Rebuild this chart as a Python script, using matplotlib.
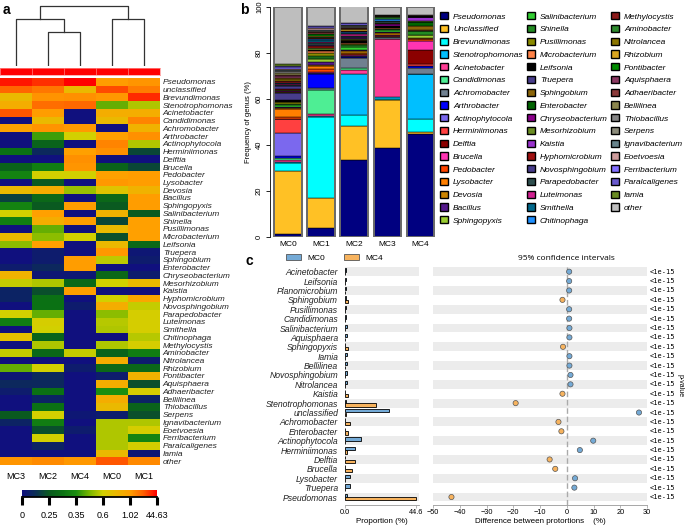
import numpy as np
import matplotlib
matplotlib.use("Agg")
import matplotlib.pyplot as plt
from matplotlib.colors import LinearSegmentedColormap
from matplotlib.patches import Patch

plt.rcParams['font.family'] = ['Liberation Sans', 'DejaVu Sans']

# ---------------------------------------------------------------
# data : relative abundance (%) of top 50 genera in each sample
genera = ['Pseudomonas', 'unclassified', 'Brevundimonas', 'Stenotrophomonas',
          'Acinetobacter', 'Candidimonas', 'Achromobacter', 'Arthrobacter',
          'Actinophytocola', 'Herminiimonas', 'Delftia', 'Brucella', 'Pedobacter',
          'Lysobacter', 'Devosia', 'Bacillus', 'Sphingopyxis', 'Salinibacterium',
          'Shinella', 'Pusillimonas', 'Microbacterium', 'Leifsonia', 'Truepera',
          'Sphingobium', 'Enterobacter', 'Chryseobacterium', 'Mesorhizobium',
          'Kaistia', 'Hyphomicrobium', 'Novosphingobium', 'Parapedobacter',
          'Luteimonas', 'Smithella', 'Chitinophaga', 'Methylocystis', 'Aminobacter',
          'Nitrolancea', 'Rhizobium', 'Pontibacter', 'Aquisphaera', 'Adhaeribacter',
          'Bellilinea', 'Thiobacillus', 'Serpens', 'Ignavibacterium', 'Eoetvoesia',
          'Ferribacterium', 'Paralcaligenes', 'Iamia', 'other']

mc0 = [1.5, 27.0, 3.5, 0.45, 0.9, 0.8, 0.0, 1.1, 9.8, 6.0, 0.0, 0.27, 1.0, 3.1,
       0.7, 0.28, 0.25, 0.85, 0.2, 0.8, 0.22, 0.8, 2.9, 0.57, 0.0, 0.28, 0.6, 0.0,
       0.6, 0.9, 0.5, 0.56, 0.55, 0.0, 0.55, 0.27, 0.9, 0.28, 0.05, 0.9, 0.35, 0.9,
       0.8, 0.05, 0.55, 0.55, 0.55, 0.55, 0.8, 25.0]
mc1 = [4.0, 13.0, 35.0, 0.55, 0.9, 10.5, 0.85, 5.8, 0.55, 0.2, 0.0, 0.2, 1.3, 1.2,
       0.85, 1.2, 1.2, 0.25, 1.1, 1.05, 1.05, 0.28, 0.03, 0.05, 0.0, 0.05, 0.8, 0.0,
       0.95, 0.58, 0.62, 0.62, 0.62, 0.56, 0.62, 0.32, 0.05, 0.28, 0.85, 0.22, 0.62,
       0.08, 0.27, 0.22, 0.55, 0.62, 0.33, 0.62, 0.03, 8.4]
mc2 = [33.3, 14.8, 4.8, 17.8, 1.8, 0.8, 4.6, 0.4, 0.27, 0.1, 0.0, 0.32, 0.6, 0.25,
       0.9, 0.28, 0.25, 1.1, 0.9, 0.45, 0.5, 1.05, 0.05, 0.05, 0.1, 0.03, 0.55, 0.22,
       0.3, 0.3, 0.45, 0.62, 0.6, 0.27, 0.55, 0.28, 0.0, 0.6, 0.1, 0.1, 0.3, 0.08,
       0.3, 0.6, 0.32, 0.22, 0.6, 0.08, 0.0, 7.2]
mc3 = [38.8, 20.5, 0.8, 0.9, 25.0, 0.0, 1.0, 0.0, 0.0, 0.3, 0.0, 0.27, 0.33, 0.0,
       0.8, 0.18, 0.33, 0.6, 0.32, 0.0, 0.8, 0.5, 0.0, 0.0, 0.05, 0.85, 0.58, 0.08,
       0.08, 0.0, 0.6, 0.32, 0.0, 0.75, 0.0, 0.58, 0.0, 0.45, 0.03, 0.1, 0.05, 0.0,
       0.0, 0.25, 0.08, 0.0, 0.0, 0.0, 0.0, 3.8]
mc4 = [44.6, 0.8, 6.0, 19.3, 0.0, 0.0, 2.8, 0.6, 0.0, 1.1, 6.0, 4.0, 0.6, 0.0,
       0.52, 0.0, 1.5, 0.0, 1.5, 0.0, 0.6, 0.0, 0.0, 1.8, 1.8, 0.03, 0.28, 1.6,
       0.0, 0.05, 0.0, 0.0, 0.0, 0.0, 0.0, 0.58, 0.0, 0.05, 0.0, 0.0, 0.0, 0.0,
       0.0, 0.03, 0.0, 0.05, 0.0, 0.0, 0.0, 3.6]

samples = ['MC0', 'MC1', 'MC2', 'MC3', 'MC4']
heat_order = ['MC3', 'MC2', 'MC4', 'MC0', 'MC1']
scale_breaks = [0, 0.25, 0.35, 0.6, 1.02, 44.63]

genus_colors = ['#000080', '#ffc125', '#00ffff', '#00bfff', '#ff3e96', '#4eee94',
                '#708090', '#0000ff', '#7b68ee', '#ff4040', '#8b0000', '#ff34b3',
                '#ff4500', '#ff7f00', '#cd8500', '#551a8b', '#9acd32', '#32cd32',
                '#228b22', '#8b8b00', '#ff8247', '#000000', '#483d8b', '#8b6508',
                '#006400', '#8b008b', '#6b8e23', '#9932cc', '#a01010', '#473c8b',
                '#2f4f4f', '#d02090', '#00688b', '#1e90ff', '#8b1a1a', '#2e8b2e',
                '#8b7500', '#daa520', '#008b00', '#8b3a62', '#8b3a3a', '#8b864e',
                '#858585', '#8b8b7a', '#68838b', '#cd9b9b', '#836fff', '#6959cd',
                '#698b22', '#bebebe']

# dendrogram merges: (left node, right node, height)
dendro_merges = [('MC2', 'MC4', 0.57), ('MC3', 'n0', 0.78),
                 ('MC0', 'MC1', 0.78), ('n1', 'n2', 1.0)]

# panel c : MC0 vs MC4
c_genera = ['Acinetobacter', 'Leifsonia', 'Planomicrobium', 'Sphingobium',
            'Pusillimonas', 'Candidimonas', 'Salinibacterium', 'Aquisphaera',
            'Sphingopyxis', 'Iamia', 'Bellilinea', 'Novosphingobium', 'Nitrolancea',
            'Kaistia', 'Stenotrophomonas', 'unclassified', 'Achromobacter',
            'Enterobacter', 'Actinophytocola', 'Herminiimonas', 'Delftia',
            'Brucella', 'Lysobacter', 'Truepera', 'Pseudomonas']
c_mc0 = [0.9, 0.9, 0.9, 0.5, 0.9, 0.9, 1.0, 1.0, 0.3, 1.0, 1.0, 1.45, 1.4, 0.0,
         0.4, 27.6, 0.0, 0.0, 9.9, 6.0, 0.0, 0.2, 3.1, 2.9, 1.5]
c_mc4 = [0.0, 0.0, 0.0, 2.1, 0.0, 0.0, 0.0, 0.0, 1.7, 0.0, 0.0, 0.05, 0.0, 1.6,
         19.5, 0.6, 3.1, 2.0, 0.0, 1.1, 6.4, 4.5, 0.0, 0.05, 44.6]
c_pvals = ['<1e-15'] * 25

# ---------------------------------------------------------------
W, H = 685, 525
fig = plt.figure(figsize=(W / 100, H / 100), dpi=100)


def add_px(x0, y0, x1, y1):
    return fig.add_axes([x0 / W, 1 - y1 / H, (x1 - x0) / W, (y1 - y0) / H])


heat_cmap = LinearSegmentedColormap.from_list('heat', [
    (0.0, '#10107e'), (0.1, '#0b2f55'), (0.2, '#0a5a20'), (0.3, '#0c7214'),
    (0.4, '#1a8e10'), (0.5, '#7ab800'), (0.6, '#d2d000'), (0.7, '#ecb800'),
    (0.8, '#ffa000'), (0.9, '#ff6000'), (1.0, '#ff0000')])

#
# panel a : heatmap
table = {'MC0': mc0, 'MC1': mc1, 'MC2': mc2, 'MC3': mc3, 'MC4': mc4}
mat = np.array([table[s] for s in heat_order]).T
levels = np.interp(mat, scale_breaks, np.arange(len(scale_breaks)))

axh = add_px(0, 78, 160, 465)
axh.imshow(levels, cmap=heat_cmap, vmin=0, vmax=5, aspect='auto',
           extent=(0, 5, 50, 0), interpolation='nearest')
axh.set_xlim(0, 5)
axh.set_ylim(50, 0)
axh.yaxis.tick_right()
axh.set_yticks(np.arange(50) + 0.5, genera, fontsize=6, fontstyle='italic',
               color='#222222')
axh.set_xticks(np.arange(5) + 0.5, heat_order, fontsize=6.5)
axh.tick_params(length=0, pad=2)
axh.tick_params(axis='x', pad=5)
for s in axh.spines.values():
    s.set_visible(False)

# color strip
axs = add_px(0, 68, 160, 75)
axs.set_facecolor('#ff0000')
for k in range(1, 5):
    axs.axvline(k, color='#ff8080', lw=0.5)
axs.set_xlim(0, 5)
axs.set_xticks([])
axs.set_yticks([])
for s in axs.spines.values():
    s.set_color('#ff9090')
    s.set_linewidth(0.5)

# dendrogram
axd = add_px(0, 5, 160, 66)
pos = {s: i + 0.5 for i, s in enumerate(heat_order)}
hgt = {s: 0.0 for s in heat_order}
for k, (a, b, h) in enumerate(dendro_merges):
    axd.plot([pos[a], pos[a], pos[b], pos[b]], [hgt[a], h, h, hgt[b]],
             color='#333333', lw=0.9)
    pos['n%d' % k] = (pos[a] + pos[b]) / 2
    hgt['n%d' % k] = h
axd.set_xlim(0, 5)
axd.set_ylim(0, 1.02)
axd.axis('off')

# colour key
axk = add_px(22, 490, 157, 497)
axk.imshow(np.linspace(0, 5, 256)[None, :], cmap=heat_cmap, aspect='auto',
           extent=(0, 5, 0, 1))
axk.set_xlim(0, 5)
axk.set_yticks([])
axk.set_xticks(range(6), [('%g' % v) for v in scale_breaks], fontsize=6.5)
axk.tick_params(axis='x', length=6, width=2.2, pad=4)
for side in ['top', 'left', 'right']:
    axk.spines[side].set_visible(False)
axk.spines['bottom'].set_linewidth(1.3)

#
# panel b : stacked bars
axb = add_px(270, 6.7, 436, 237)
xb = np.arange(5)
bottom = np.zeros(5)
for i, g in enumerate(genera):
    vals = np.array([table[s][i] for s in samples])
    axb.bar(xb, vals, 0.83, bottom=bottom, color=genus_colors[i],
            edgecolor='black', linewidth=0.35)
    bottom += vals
axb.bar(xb, bottom, 0.83, fill=False, edgecolor='#6a6a6a', linewidth=1.4)
axb.set_xlim(-0.54, 4.47)
axb.set_ylim(0, 100)
axb.set_xticks(xb, samples, fontsize=6)
axb.tick_params(axis='x', length=0, pad=3)
axb.set_yticks(range(0, 101, 20))
axb.set_yticklabels(range(0, 101, 20), rotation=90, va='center', fontsize=5.5)
axb.tick_params(axis='y', length=3, width=0.6, pad=2)
axb.set_ylabel('Frequency of genus (%)', fontsize=5.5, labelpad=3)
for side in ['top', 'right', 'bottom']:
    axb.spines[side].set_visible(False)
axb.spines['left'].set_linewidth(0.6)

legend_names = [g.capitalize() if g == 'unclassified' else g for g in genera]
handles = [Patch(facecolor=c, edgecolor='black', linewidth=1.0, label=n)
           for c, n in zip(genus_colors, legend_names)]
fig.legend(handles=handles, ncol=3, loc='upper left',
           bbox_to_anchor=(440 / W, 1 - 12 / H), frameon=False,
           prop={'size': 6, 'style': 'italic'}, handlelength=1.0,
           handleheight=1.0, handletextpad=0.55, labelspacing=0.5,
           columnspacing=0.4, borderpad=0, borderaxespad=0)

#
# panel c : extended error bar style comparison
blue, orange = '#74aad6', '#f7b35e'
ny = len(c_genera)
yc = np.arange(ny)

axc1 = add_px(345, 267, 419, 505)
axc2 = add_px(433, 267, 647, 505)
for ax in (axc1, axc2):
    for i in range(0, ny, 2):
        ax.axhspan(i - 0.47, i + 0.47, color='#ececec', lw=0, zorder=0)
    ax.set_ylim(ny - 0.15, -0.5)
    for side in ['top', 'right', 'left']:
        ax.spines[side].set_visible(False)
    ax.spines['bottom'].set_color('#999999')
    ax.spines['bottom'].set_linewidth(0.6)
    ax.tick_params(axis='x', labelsize=5.3, length=2, width=0.5,
                   color='#999999', pad=1)

axc1.barh(yc - 0.19, c_mc0, 0.36, color=blue, edgecolor='black', lw=0.6, zorder=2)
axc1.barh(yc + 0.19, c_mc4, 0.36, color=orange, edgecolor='black', lw=0.6, zorder=2)
axc1.set_xlim(0, 46.5)
axc1.set_xticks([0, 44.6], ['0.0', '44.6'])
axc1.set_yticks(yc, c_genera, fontsize=6.2, fontstyle='italic', color='#222222')
axc1.tick_params(axis='y', length=0, pad=5)
axc1.set_xlabel('Proportion (%)', fontsize=5.8, labelpad=1)

diff = np.array(c_mc0) - np.array(c_mc4)
axc2.axvline(0, color='#aaaaaa', lw=1.0, ls=(0, (4, 2)), zorder=1)
axc2.scatter(diff, yc, s=14, c=[blue if d > 0 else orange for d in diff],
             edgecolors='#555555', linewidths=0.5, zorder=3)
axc2.set_xlim(-50, 30)
axc2.set_xticks(range(-50, 31, 10))
axc2.set_yticks([])
axc2.set_xlabel('Difference between protortions    (%)', fontsize=5.8, labelpad=1)
for i, p in enumerate(c_pvals):
    axc2.text(1.015, i, p, transform=axc2.get_yaxis_transform(), fontsize=5,
              family='DejaVu Sans Mono', va='center', ha='left')

fig.text(566 / W, 1 - 258 / H, '95% confidence intervals', fontsize=6,
         ha='center', va='center', family='Open Sans')
fig.text(680 / W, 1 - 386 / H, 'p-value', fontsize=5, rotation=270,
         ha='center', va='center')

fig.legend(handles=[Patch(facecolor=blue, edgecolor='#555555', lw=0.6, label='MC0'),
                    Patch(facecolor=orange, edgecolor='#555555', lw=0.6, label='MC4')],
           ncol=2, loc='center left', bbox_to_anchor=(286 / W, 1 - 258 / H),
           frameon=False, fontsize=6, handlelength=1.8, handleheight=0.7,
           handletextpad=0.8, columnspacing=2.2, borderpad=0, borderaxespad=0)

# panel letters
fig.text(3 / W, 1 - 10 / H, 'a', fontsize=10, fontweight='bold', va='center')
fig.text(240 / W, 1 - 10 / H, 'b', fontsize=10, fontweight='bold', va='center')
fig.text(246 / W, 1 - 261 / H, 'c', fontsize=10, fontweight='bold', va='center')

fig.savefig('out.png', dpi=100)
plt.close()
